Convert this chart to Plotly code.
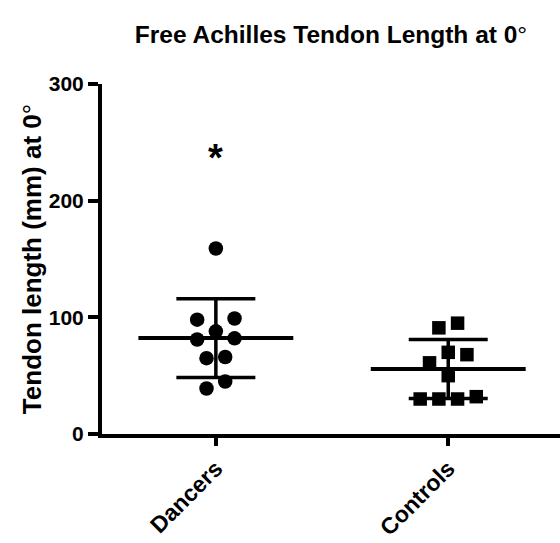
import math
import numpy as np
import plotly.graph_objects as go

# Free Achilles tendon length (mm) at 0 degrees, per subject
groups = ["Dancers", "Controls"]
dancers = [159, 99, 98, 88, 82, 81, 66, 65, 45, 39]
controls = [95, 91, 70, 68, 61, 50, 30, 30, 30, 32]
y_ticks = [0, 100, 200, 300]
significance_mark = "*"

FONT = "Liberation Sans, Arial, sans-serif"
W, H = 560, 543
MARGIN = dict(l=102, r=0, t=84, b=109)
Y_RANGE = [0, 300]
X_RANGE = [-0.49, 1.481]

px_per_y = (H - MARGIN["t"] - MARGIN["b"]) / (Y_RANGE[1] - Y_RANGE[0])
px_per_x = (W - MARGIN["l"] - MARGIN["r"]) / (X_RANGE[1] - X_RANGE[0])


def swarm_offsets(values, row_px=12.0, slot_px=18.7, min_dist_px=18.7):
    """Column-scatter layout: nearby values share a row, spread symmetrically,
    and a row is widened until it clears the points already placed."""
    vals = np.asarray(values, dtype=float)
    order = np.argsort(vals, kind="stable")
    rows, cur = [], []
    for i in order:
        if cur and (vals[i] - vals[cur[0]]) * px_per_y > row_px:
            rows.append(cur)
            cur = []
        cur.append(i)
    rows.append(cur)

    half = slot_px / 2
    offsets = np.zeros(len(vals))
    placed = []
    for row in rows:
        n = len(row)
        base = [2 * k - (n - 1) for k in range(n)]
        srt = sorted(row, key=lambda i: vals[i])
        if n % 2 == 1:
            top, rest = srt[-1], srt[:-1]
            assign = rest[: n // 2] + [top] + rest[n // 2:]
        else:
            assign = srt
        widen = 0
        while True:
            slots = [b + (np.sign(b) * widen) for b in base]
            ok = all(
                math.hypot(s * half - qx, vals[i] * px_per_y - qy) >= min_dist_px - 1e-6
                for s, i in zip(slots, assign)
                for qx, qy in placed
            )
            if ok:
                break
            widen += 1
        for s, i in zip(slots, assign):
            offsets[i] = s * half / px_per_x
            placed.append((s * half, vals[i] * px_per_y))
    return offsets


fig = go.Figure()

MEAN_HALF = 1 / 3
CAP_HALF = 0.17
for gi, (vals, symbol, msize) in enumerate(
    [(dancers, "circle", 14.5), (controls, "square", 13.5)]
):
    arr = np.asarray(vals, dtype=float)
    mean = arr.mean()
    sd = arr.std(ddof=1)
    # mean line
    fig.add_trace(go.Scatter(
        x=[gi - MEAN_HALF, gi + MEAN_HALF], y=[mean, mean], mode="lines",
        line=dict(color="black", width=4), hoverinfo="skip", showlegend=False,
    ))
    # SD whisker with caps
    fig.add_trace(go.Scatter(
        x=[gi - CAP_HALF, gi + CAP_HALF, None, gi, gi, None, gi - CAP_HALF, gi + CAP_HALF],
        y=[mean + sd, mean + sd, None, mean + sd, mean - sd, None, mean - sd, mean - sd],
        mode="lines", line=dict(color="black", width=3.5),
        hoverinfo="skip", showlegend=False,
    ))
    offs = swarm_offsets(vals)
    fig.add_trace(go.Scatter(
        x=gi + offs, y=arr, mode="markers",
        marker=dict(symbol=symbol, size=msize, color="black", line=dict(width=0)),
        name=groups[gi], showlegend=False,
    ))

fig.add_annotation(
    x=0, y=max(dancers) + 78, text=significance_mark, showarrow=False,
    font=dict(family=FONT, size=38, color="black", weight="bold"),
    xanchor="center", yanchor="middle",
)

fig.update_layout(
    width=W, height=H, margin=MARGIN,
    paper_bgcolor="white", plot_bgcolor="white",
    title=dict(
        text="Free Achilles Tendon Length at 0<span style='font-weight:normal'>°</span>",
        x=(MARGIN["l"] + W - MARGIN["r"]) / 2 / W, xanchor="center",
        y=1 - 34 / H, yanchor="middle",
        font=dict(family=FONT, size=24.5, color="black", weight="bold"),
    ),
    xaxis=dict(
        range=X_RANGE, tickvals=[0, 1], ticktext=groups, tickangle=-45,
        showline=True, linecolor="black", linewidth=4,
        ticks="outside", ticklen=8, tickwidth=4, tickcolor="black",
        showgrid=False, zeroline=False,
        tickfont=dict(family=FONT, size=23, color="black", weight="bold"),
    ),
    yaxis=dict(
        range=Y_RANGE, tickvals=y_ticks,
        showline=True, linecolor="black", linewidth=4,
        ticks="outside", ticklen=10, tickwidth=4, tickcolor="black",
        showgrid=False, zeroline=False,
        tickfont=dict(family=FONT, size=21, color="black", weight="bold"),
        title=dict(
            text="Tendon length (mm) at 0<span style='font-weight:normal'>°</span>",
            standoff=1,
            font=dict(family=FONT, size=26, color="black", weight="bold"),
        ),
    ),
)

fig.write_html("out.html")
